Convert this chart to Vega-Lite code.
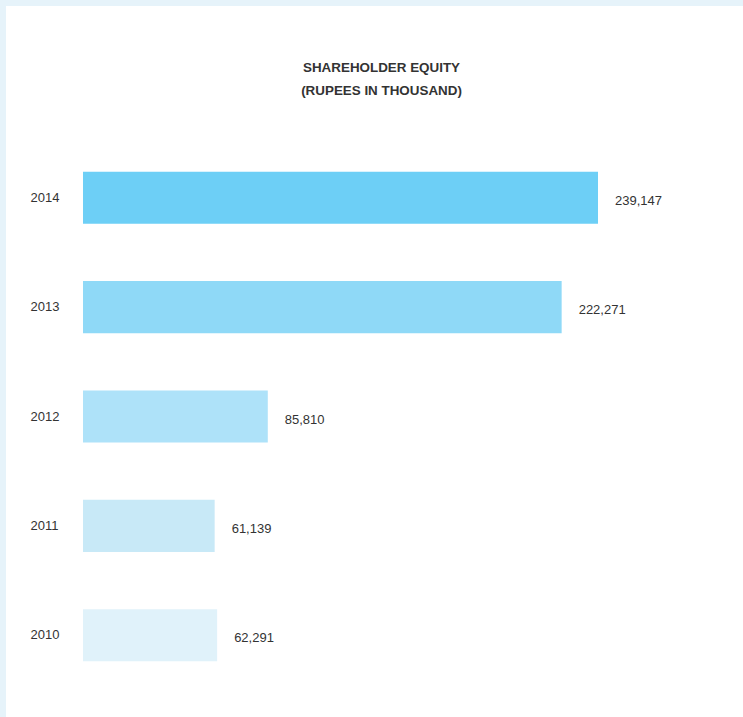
{
  "$schema": "https://vega.github.io/schema/vega-lite/v6.json",
  "width": 737,
  "height": 711,
  "autosize": {"type": "none"},
  "padding": {"left": 6, "top": 6, "right": 0, "bottom": 0},
  "background": "#e6f3fa",
  "config": {"view": {"fill": "white", "stroke": null}, "font": "Liberation Sans"},
  "title": {
    "text": ["SHAREHOLDER EQUITY", "(RUPEES IN THOUSAND)"],
    "fontSize": 13.4,
    "fontWeight": "bold",
    "color": "#333333",
    "lineHeight": 23,
    "anchor": "middle",
    "dx": 7,
    "offset": -91,
    "frame": "group"
  },
  "data": {
    "values": [
      {"year": "2014", "equity": 239147},
      {"year": "2013", "equity": 222271},
      {"year": "2012", "equity": 85810},
      {"year": "2011", "equity": 61139},
      {"year": "2010", "equity": 62291}
    ]
  },
  "encoding": {
    "y": {
      "field": "year",
      "type": "nominal",
      "sort": ["2014", "2013", "2012", "2011", "2010"],
      "scale": {"range": [137, 684], "paddingInner": 0.524, "paddingOuter": 0.262},
      "axis": {
        "title": null,
        "domain": false,
        "ticks": false,
        "labelAlign": "left",
        "labelPadding": -24,
        "labelFontSize": 13,
        "labelColor": "#333333",
        "labelFont": "Liberation Sans"
      }
    },
    "x": {
      "field": "equity",
      "type": "quantitative",
      "scale": {"domain": [-35756, 306481], "nice": false, "zero": false},
      "axis": null
    }
  },
  "layer": [
    {
      "mark": {"type": "bar"},
      "encoding": {
        "x2": {"datum": 0},
        "color": {
          "field": "year",
          "type": "nominal",
          "scale": {
            "domain": ["2014", "2013", "2012", "2011", "2010"],
            "range": ["#6dcff6", "#8fd9f7", "#aee2f9", "#c8e9f7", "#e0f2fa"]
          },
          "legend": null
        }
      }
    },
    {
      "mark": {"type": "text", "align": "left", "dx": 17, "dy": 3, "fontSize": 13, "color": "#333333"},
      "encoding": {
        "text": {"field": "equity", "type": "quantitative", "format": ","}
      }
    }
  ]
}
